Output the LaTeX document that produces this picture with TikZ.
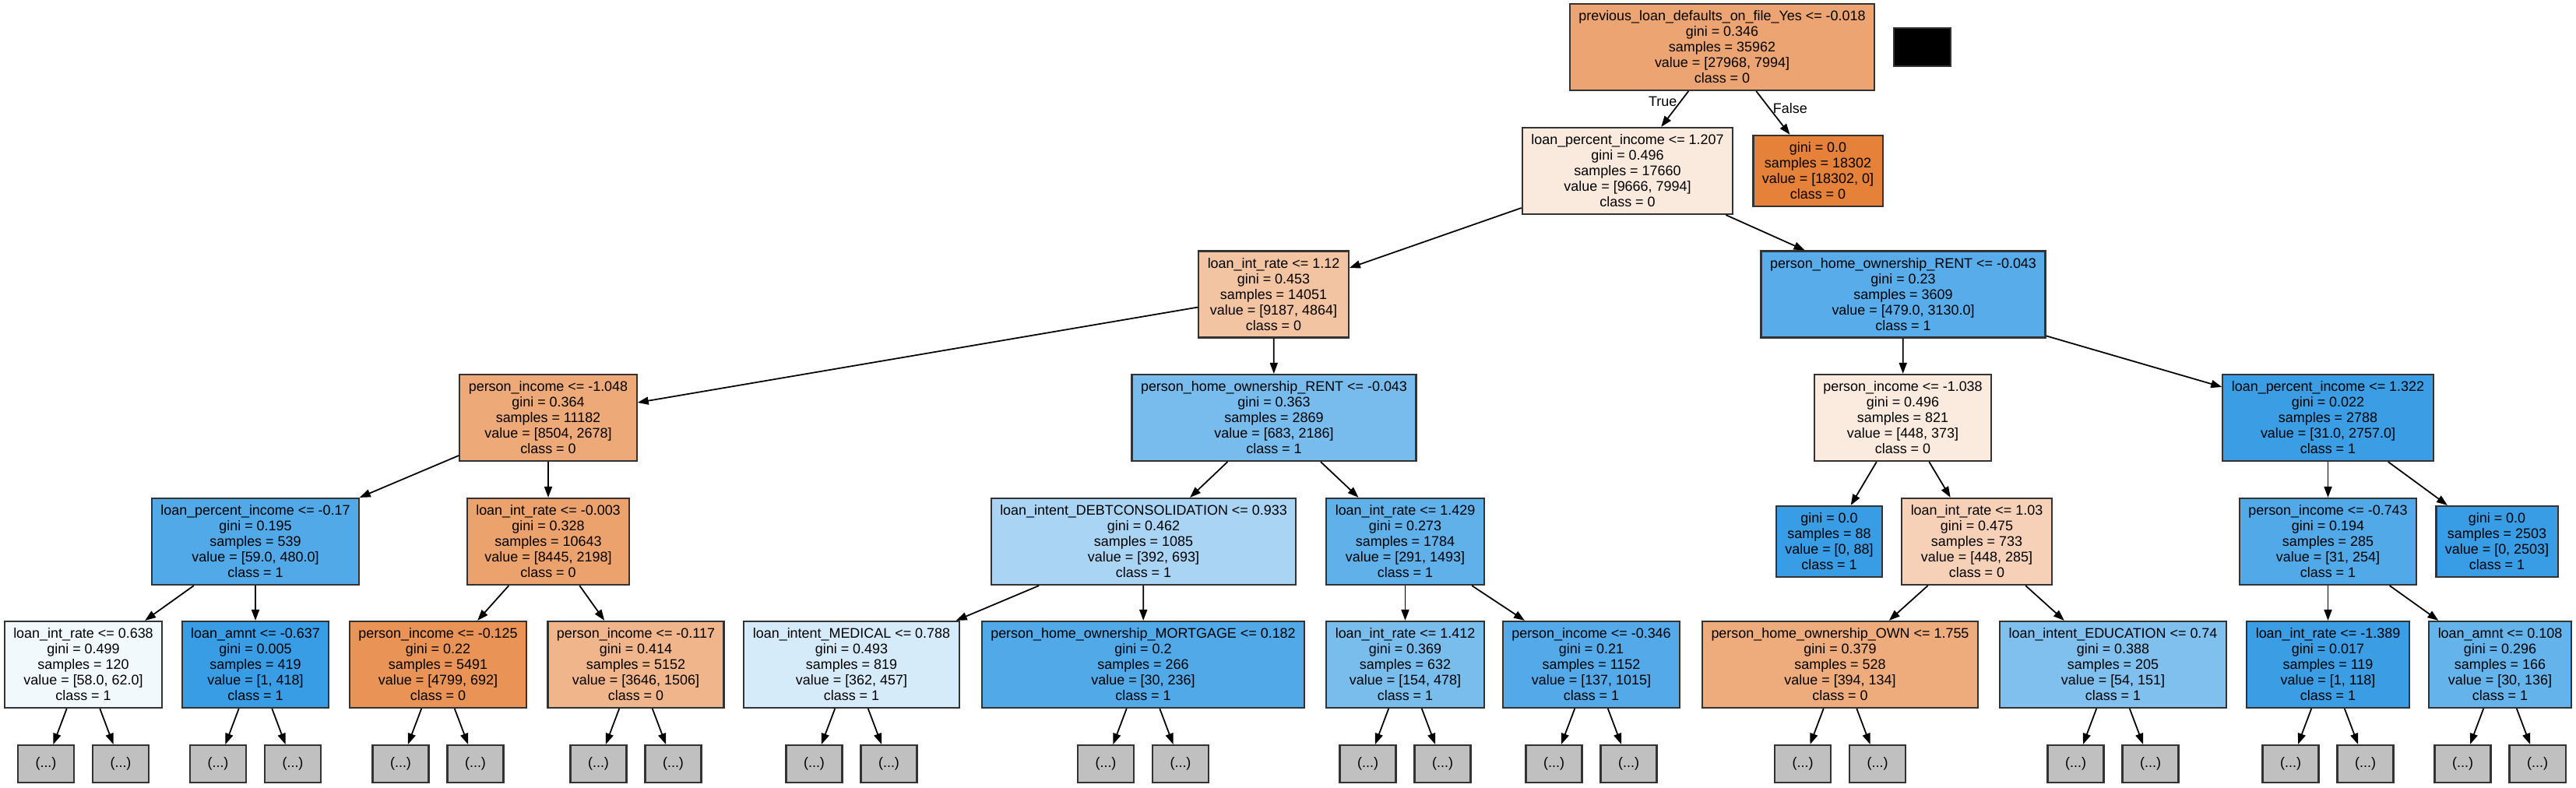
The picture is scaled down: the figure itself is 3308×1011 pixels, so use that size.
\documentclass[tikz,border=0pt]{standalone}
\usepackage{fontspec}
\setmainfont{Liberation Sans}
\usetikzlibrary{arrows.meta}
\definecolor{cls0}{RGB}{229,129,57}
\definecolor{cls1}{RGB}{57,157,229}
\definecolor{moregray}{RGB}{192,192,192}
\newcommand\treefont{\fontsize{5.1pt}{5.69pt}\selectfont}

\begin{document}
\begin{tikzpicture}[
  x=0.01cm, y=-0.01cm,
  split/.style={draw=black!80,line width=0.6pt,align=center,inner xsep=0.115cm,inner ysep=0pt,minimum height=1.11cm,font=\treefont},
  leaf/.style={split,minimum height=0.91cm},
  more/.style={draw=black!80,line width=0.6pt,fill=moregray,minimum width=0.72cm,minimum height=0.48cm,inner sep=0pt,font=\treefont},
  arr/.style={-{Triangle[length=0.14cm,width=0.1cm]},line width=0.5pt},
  lab/.style={font=\treefont,inner sep=1pt}
]
\useasboundingbox (0,0) rectangle (3308,1011);
% level 0
\node[split,fill=cls0!71.4!white] (root) at (2211.5,60.5) {previous\_loan\_defaults\_on\_file\_Yes <= -0.018\\gini = 0.346\\samples = 35962\\value = [27968, 7994]\\class = 0};
\node[draw=black!80,fill=black,minimum width=0.73cm,minimum height=0.49cm,inner sep=0pt] (legend) at (2468.5,60.5) {};
% level 1
\node[split,fill=cls0!17.3!white] (lpiA) at (2090,219.5) {loan\_percent\_income <= 1.207\\gini = 0.496\\samples = 17660\\value = [9666, 7994]\\class = 0};
\node[leaf,fill=cls0] (leafA) at (2334.5,219.5) {gini = 0.0\\samples = 18302\\value = [18302, 0]\\class = 0};
% level 2
\node[split,fill=cls0!47.1!white] (rateA) at (1635.5,378) {loan\_int\_rate <= 1.12\\gini = 0.453\\samples = 14051\\value = [9187, 4864]\\class = 0};
\node[split,fill=cls1!84.7!white] (rentA) at (2444,378) {person\_home\_ownership\_RENT <= -0.043\\gini = 0.23\\samples = 3609\\value = [479.0, 3130.0]\\class = 1};
% level 3
\node[split,fill=cls0!68.5!white] (incA) at (704,536.5) {person\_income <= -1.048\\gini = 0.364\\samples = 11182\\value = [8504, 2678]\\class = 0};
\node[split,fill=cls1!68.8!white] (rentB) at (1636,536.5) {person\_home\_ownership\_RENT <= -0.043\\gini = 0.363\\samples = 2869\\value = [683, 2186]\\class = 1};
\node[split,fill=cls0!16.7!white] (incB) at (2443.5,536.5) {person\_income <= -1.038\\gini = 0.496\\samples = 821\\value = [448, 373]\\class = 0};
\node[split,fill=cls1!98.9!white] (lpiB) at (2989.5,536.5) {loan\_percent\_income <= 1.322\\gini = 0.022\\samples = 2788\\value = [31.0, 2757.0]\\class = 1};
% level 4
\node[split,fill=cls1!87.7!white] (lpiC) at (328,695.5) {loan\_percent\_income <= -0.17\\gini = 0.195\\samples = 539\\value = [59.0, 480.0]\\class = 1};
\node[split,fill=cls0!74!white] (rateB) at (704,695.5) {loan\_int\_rate <= -0.003\\gini = 0.328\\samples = 10643\\value = [8445, 2198]\\class = 0};
\node[split,fill=cls1!43.4!white] (debt) at (1468.5,695.5) {loan\_intent\_DEBTCONSOLIDATION <= 0.933\\gini = 0.462\\samples = 1085\\value = [392, 693]\\class = 1};
\node[split,fill=cls1!80.5!white] (rateC) at (1804.5,695.5) {loan\_int\_rate <= 1.429\\gini = 0.273\\samples = 1784\\value = [291, 1493]\\class = 1};
\node[leaf,fill=cls1] (leafB) at (2349,695.5) {gini = 0.0\\samples = 88\\value = [0, 88]\\class = 1};
\node[split,fill=cls0!36.4!white] (rateD) at (2538.5,695.5) {loan\_int\_rate <= 1.03\\gini = 0.475\\samples = 733\\value = [448, 285]\\class = 0};
\node[split,fill=cls1!87.8!white] (incC) at (2989.5,695.5) {person\_income <= -0.743\\gini = 0.194\\samples = 285\\value = [31, 254]\\class = 1};
\node[leaf,fill=cls1] (leafC) at (3206.5,695.5) {gini = 0.0\\samples = 2503\\value = [0, 2503]\\class = 1};
% level 5
\node[split,fill=cls1!6.5!white] (rateE) at (107,853.5) {loan\_int\_rate <= 0.638\\gini = 0.499\\samples = 120\\value = [58.0, 62.0]\\class = 1};
\node[split,fill=cls1!99.8!white] (amntA) at (328,853.5) {loan\_amnt <= -0.637\\gini = 0.005\\samples = 419\\value = [1, 418]\\class = 1};
\node[split,fill=cls0!85.6!white] (incD) at (562.5,853.5) {person\_income <= -0.125\\gini = 0.22\\samples = 5491\\value = [4799, 692]\\class = 0};
\node[split,fill=cls0!58.7!white] (incE) at (816.5,853.5) {person\_income <= -0.117\\gini = 0.414\\samples = 5152\\value = [3646, 1506]\\class = 0};
\node[split,fill=cls1!20.8!white] (medical) at (1093.5,853.5) {loan\_intent\_MEDICAL <= 0.788\\gini = 0.493\\samples = 819\\value = [362, 457]\\class = 1};
\node[split,fill=cls1!87.3!white] (mortgage) at (1468,853.5) {person\_home\_ownership\_MORTGAGE <= 0.182\\gini = 0.2\\samples = 266\\value = [30, 236]\\class = 1};
\node[split,fill=cls1!67.8!white] (rateF) at (1804.5,853.5) {loan\_int\_rate <= 1.412\\gini = 0.369\\samples = 632\\value = [154, 478]\\class = 1};
\node[split,fill=cls1!86.5!white] (incF) at (2043.5,853.5) {person\_income <= -0.346\\gini = 0.21\\samples = 1152\\value = [137, 1015]\\class = 1};
\node[split,fill=cls0!66!white] (own) at (2363,853.5) {person\_home\_ownership\_OWN <= 1.755\\gini = 0.379\\samples = 528\\value = [394, 134]\\class = 0};
\node[split,fill=cls1!64.2!white] (educ) at (2713.5,853.5) {loan\_intent\_EDUCATION <= 0.74\\gini = 0.388\\samples = 205\\value = [54, 151]\\class = 1};
\node[split,fill=cls1!99.2!white] (rateG) at (2989.5,853.5) {loan\_int\_rate <= -1.389\\gini = 0.017\\samples = 119\\value = [1, 118]\\class = 1};
\node[split,fill=cls1!77.9!white] (amntB) at (3210.5,853.5) {loan\_amnt <= 0.108\\gini = 0.296\\samples = 166\\value = [30, 136]\\class = 1};
% edges
\draw[arr] (root) -- node[lab,pos=0.3,left] {True} (lpiA);
\draw[arr] (root) -- node[lab,pos=0.4,right] {False} (leafA);
\foreach \a/\b in {lpiA/rateA,lpiA/rentA,rateA/incA,rateA/rentB,rentA/incB,rentA/lpiB,
  incA/lpiC,incA/rateB,rentB/debt,rentB/rateC,incB/leafB,incB/rateD,lpiB/incC,lpiB/leafC,
  lpiC/rateE,lpiC/amntA,rateB/incD,rateB/incE,debt/medical,debt/mortgage,rateC/rateF,rateC/incF,
  rateD/own,rateD/educ,incC/rateG,incC/amntB}
  \draw[arr] (\a) -- (\b);
% truncated subtrees
\foreach \p in {rateE,amntA,incD,incE,medical,mortgage,rateF,incF,own,educ,rateG,amntB} {
  \path (\p) ++(-48,127.5) node[more] (\p-l) {(...)};
  \path (\p) ++(48,127.5) node[more] (\p-r) {(...)};
  \draw[arr] (\p) -- (\p-l);
  \draw[arr] (\p) -- (\p-r);
}
\end{tikzpicture}
\end{document}
